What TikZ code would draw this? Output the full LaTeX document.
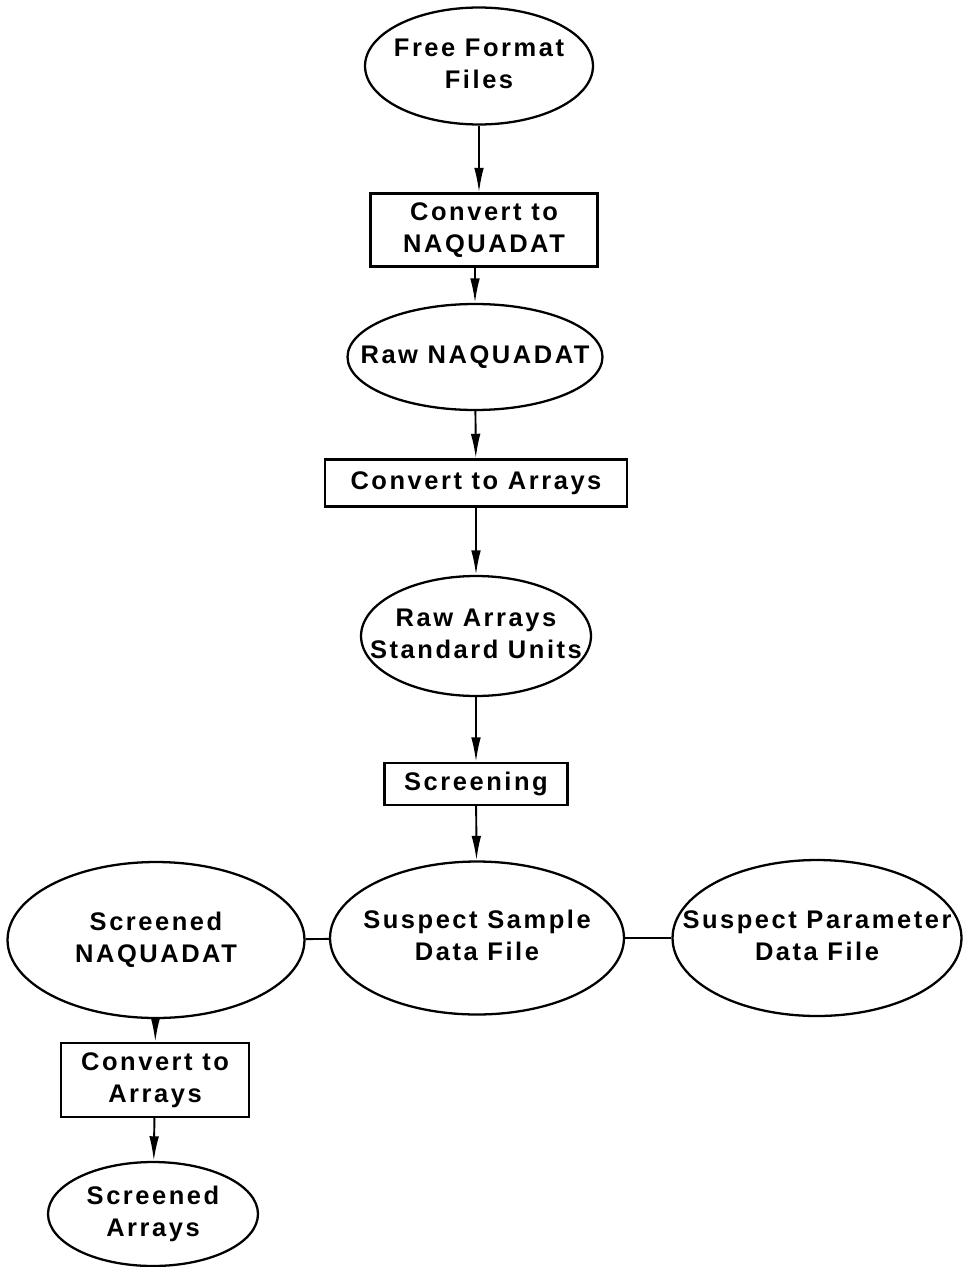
\documentclass[tikz,border=0pt]{standalone}
\usepackage{fontspec}
\setmainfont[LetterSpace=10]{Liberation Sans}
\usetikzlibrary{shapes.geometric,arrows.meta}
% text of no width, so the ellipse keeps its set size
\newcommand{\flatbox}[1]{\makebox[0pt]{\begin{tabular}{@{}c@{}}#1\end{tabular}}}

\begin{document}
\begin{tikzpicture}[x=0.02cm, y=-0.02cm, line width=1.3pt,
		file_style/.style={ellipse,draw=black,inner sep=0pt,align=center,font=\bfseries\fontsize{14.5}{18}\selectfont},
		step_style/.style={rectangle,draw=black,inner sep=0pt,align=center,font=\bfseries\fontsize{14.5}{18}\selectfont},
		edge_style/.style={draw=black,line width=1.1pt,-{Latex[length=14pt,width=5.5pt]}},
		link_style/.style={draw=black,line width=1.1pt}]

		\useasboundingbox (0,0) rectangle (967,1267);

		\node[file_style, minimum width=4.56cm, minimum height=2.34cm] (n0) at (479,66)  {\flatbox{Free Format\\Files}};
		\node[step_style, minimum width=4.54cm, minimum height=1.46cm] (n1) at (484,230)  {Convert to\\NAQUADAT};
		\node[file_style, minimum width=5.10cm, minimum height=2.12cm] (n2) at (475,357)  {\flatbox{Raw NAQUADAT}};
		\node[step_style, minimum width=6.04cm, minimum height=0.94cm] (n3) at (476,483)  {Convert to Arrays};
		\node[file_style, minimum width=4.60cm, minimum height=2.40cm] (n4) at (476,636)  {\flatbox{Raw Arrays\\Standard Units}};
		\node[step_style, minimum width=3.66cm, minimum height=0.84cm] (n5) at (476,784)  {Screening};
		\node[file_style, minimum width=5.88cm, minimum height=3.06cm] (n6) at (477,938)  {\flatbox{Suspect Sample\\Data File}};
		\node[file_style, minimum width=5.94cm, minimum height=3.12cm] (n7) at (156,940)  {\flatbox{Screened\\NAQUADAT}};
		\node[file_style, minimum width=5.78cm, minimum height=3.12cm] (n8) at (817,938)  {\flatbox{Suspect Parameter\\Data File}};
		\node[step_style, minimum width=3.76cm, minimum height=1.48cm] (n9) at (155,1080)  {Convert to\\Arrays};
		\node[file_style, minimum width=4.20cm, minimum height=2.08cm] (n10) at (153,1214)  {\flatbox{Screened\\Arrays}};

		\draw[edge_style]  (n0) -- (n0 |- n1.north);
		\draw[edge_style]  (n1.south -| n2) -- (n2);
		\draw[edge_style]  (n2) -- (n3);
		\draw[edge_style]  (n3) -- (n4);
		\draw[edge_style]  (n4) -- (n5);
		\draw[edge_style]  (n5) -- (n6);
		\draw[link_style]  (n7) -- (n6);
		\draw[link_style]  (n6) -- (n8);
		\draw[edge_style]  (n7) -- (n9);
		\draw[edge_style]  (n9) -- (n10);
\end{tikzpicture}
\end{document}
